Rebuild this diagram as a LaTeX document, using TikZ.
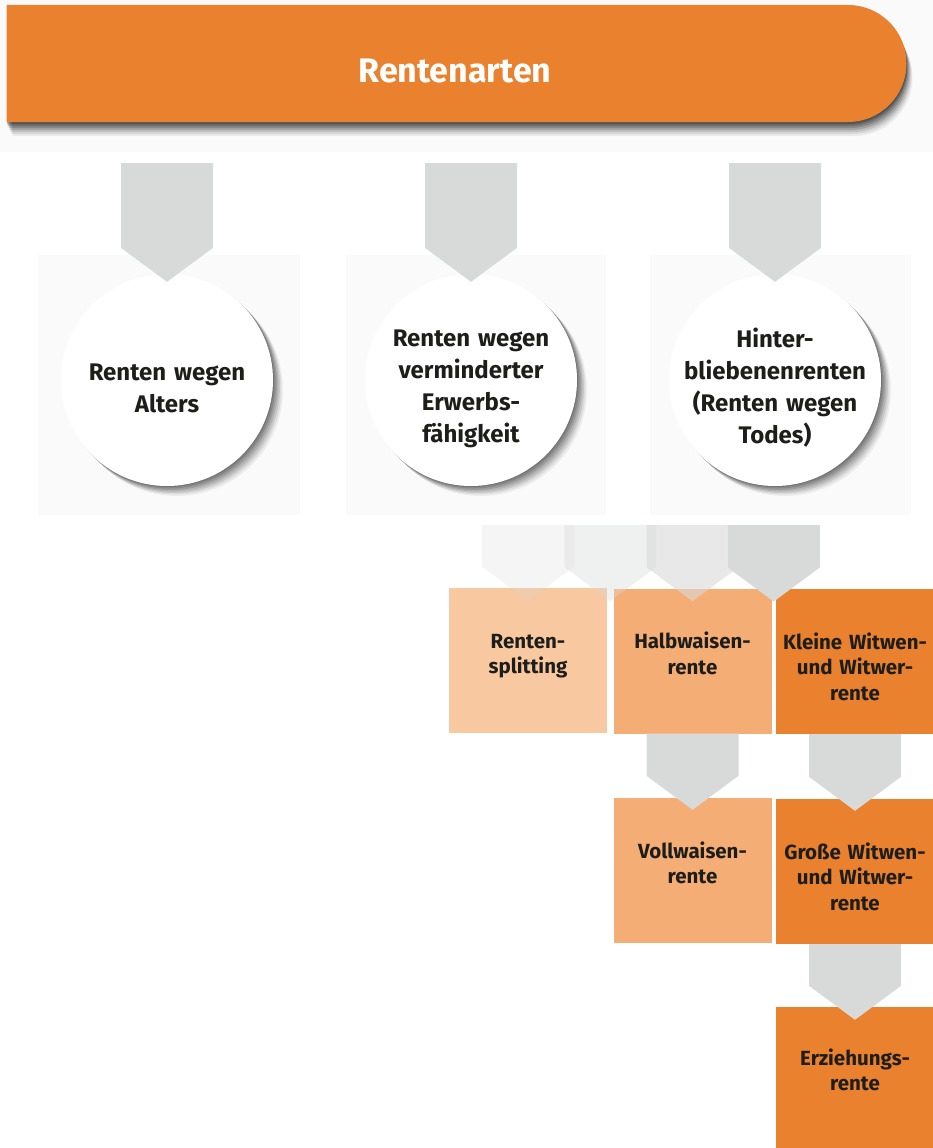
\documentclass[tikz,border=0pt]{standalone}
\usepackage{fontspec}
\setmainfont{Fira Sans}
\usetikzlibrary{calc,shapes.misc,shadows}

\definecolor{rvorange}{HTML}{E9812E}
\definecolor{rvpfirsich}{HTML}{F4AD74}
\definecolor{rvhell}{HTML}{F8C8A0}
\definecolor{pfeilgrau}{HTML}{D8D9D9}
\definecolor{hintergrund}{HTML}{FAFAFB}
\definecolor{schrift}{HTML}{1D1D1B}

\tikzset{
  lage/.style n args={3}{general shadow={fill=black, opacity=#3, shadow xshift=#1, shadow yshift=#2}},
  kopfschatten/.style={lage={0.5pt}{-2pt}{.22}, lage={1pt}{-4pt}{.2}, lage={2pt}{-6pt}{.17},
    lage={3pt}{-8pt}{.14}, lage={4pt}{-10pt}{.11}, lage={5pt}{-12pt}{.08}, lage={6pt}{-14pt}{.06}},
  kreisschatten/.style={lage={1pt}{-1pt}{.14}, lage={2.5pt}{-2.5pt}{.13}, lage={4pt}{-4pt}{.12},
    lage={5.5pt}{-5.5pt}{.1}, lage={7pt}{-7pt}{.09}, lage={8.5pt}{-8.5pt}{.07}, lage={10pt}{-10pt}{.05}},
  kopf/.style={rounded rectangle, rounded rectangle left arc=none, minimum width=900pt,
    minimum height=117pt, inner sep=0pt, fill=rvorange, text=white,
    font=\fontsize{34}{40}\selectfont\bfseries, text height=37pt, text depth=0pt, kopfschatten},
  kreis/.style={circle, minimum size=212pt, inner sep=-50pt, fill=white, text=schrift,
    text width=195pt, align=center, text height=34pt,
    font=\fontsize{24}{32}\selectfont\bfseries, kreisschatten},
  kasten/.style={rectangle, minimum width=158pt, minimum height=145pt, inner sep=0pt,
    text width=154pt, align=center, text=schrift, text height=20pt, text depth=45pt,
    font=\fontsize{20.5}{25.5}\selectfont\bfseries}
}

% grauer Pfeil: Oberkante von #2, Spitze bei #3
\newcommand\pfeil[3][1]{%
  \fill[pfeilgrau, fill opacity=#1] let \p1=(#2), \p2=(#3) in
    (\x2-46pt,\y1) -- (\x2+46pt,\y1) -- (\x2+46pt,\y2+34pt) -- (\x2,\y2)
    -- (\x2-46pt,\y2+34pt) -- cycle;}

\begin{document}
\begin{tikzpicture}[x=1pt, y=-1pt]
  \useasboundingbox (0,0) rectangle (933,1148);
  % Hintergrund
  \fill[hintergrund] (0,0) rectangle (933,152);
  \fill[hintergrund] (38,255) rectangle (300,515);
  \fill[hintergrund] (346,255) rectangle (606,515);
  \fill[hintergrund] (650,255) rectangle (911,515);

  \node[kopf] (hdr) at (455,63.5) {Rentenarten};

  \node[kreis] (alter) at (167,380) {Renten wegen\\Alters};
  \node[kreis] (erwerb) at (471,380) {Renten wegen\\verminderter\\Erwerbs-\\fähigkeit};
  \node[kreis] (tod) at (775,380) {Hinter-\\bliebenenrenten\\(Renten wegen\\Todes)};

  \node[kasten, fill=rvhell] (split) at (528,660.5) {Renten-\\splitting};
  \node[kasten, fill=rvpfirsich] (halb) at (692.5,661) {Halbwaisen-\\rente};
  \node[kasten, fill=rvorange] (klein) at (855,661.5) {Kleine Witwen-\\und Witwer-\\rente};
  \node[kasten, fill=rvpfirsich] (voll) at (692.5,870.5) {Vollwaisen-\\rente};
  \node[kasten, fill=rvorange] (gross) at (855,871.5) {Große Witwen-\\und Witwer-\\rente};
  \node[kasten, fill=rvorange, minimum height=141pt] (erz) at (855,1077.5) {Erziehungs-\\rente};

  \coordinate (oben) at ($(hdr.south)+(0,41)$);
  \coordinate (mitte) at ($(tod.south)+(0,39)$);
  \coordinate (lueckeA) at ($(split.north)!0.5!(halb.north)$);
  \coordinate (lueckeB) at ($(halb.north)!0.5!(klein.north)$);

  \pfeil{oben}{$(alter.north)+(0,8)$}
  \pfeil{oben}{$(erwerb.north)+(0,8)$}
  \pfeil{oben}{$(tod.north)+(0,8)$}

  \pfeil[0.25]{mitte}{$(split.north)+(0,13)$}
  \pfeil[0.4]{mitte}{$(lueckeA)+(0,13)$}
  \pfeil[0.6]{mitte}{$(halb.north)+(0,13)$}
  \pfeil{mitte}{$(lueckeB)+(0,13)$}

  \pfeil{halb.south}{$(voll.north)+(0,12)$}
  \pfeil{klein.south}{$(gross.north)+(0,12)$}
  \pfeil{gross.south}{$(erz.north)+(0,13)$}
\end{tikzpicture}
\end{document}
